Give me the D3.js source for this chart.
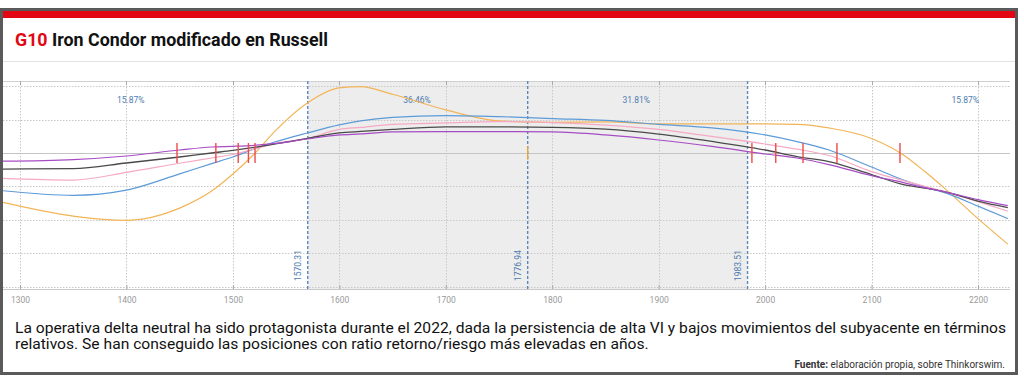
<!DOCTYPE html>
<html><head><meta charset="utf-8">
<script src="https://cdn.jsdelivr.net/npm/d3@7"></script>
<style>html,body{margin:0;padding:0;background:#fff;}svg{display:block;}</style>
</head><body>
<svg id="c" width="1024" height="381"></svg>
<script>
// ---- data ----
const prices = [1284,1350,1400,1450,1480,1500,1520,1540,1570,1600,1620,1650,1700,1750,1800,1850,1900,1950,2000,2030,2060,2100,2130,2150,2170,2200,2228];
const orangePL = [-740,-945,-1010,-825,-570,-315,-15,335,750,975,995,880,645,480,458,465,435,435,435,428,375,218,-30,-278,-548,-983,-1365];
const bluePL   = [-565,-633,-555,-312,-158,-60,60,168,300,420,480,533,560,545,516,488,428,375,270,170,45,-210,-405,-510,-600,-795,-982];
const pinkPL   = [-380,-405,-290,-153,-75,-23,60,143,218,353,383,428,450,470,455,416,353,248,135,57,-38,-278,-413,-500,-585,-728,-870];
const blackPL  = [-240,-233,-150,-60,0,38,83,135,218,300,323,353,390,390,383,356,282,173,45,-53,-128,-323,-473,-525,-585,-720,-818];
const purplePL = [-122,-98,-45,45,90,100,115,143,210,270,285,315,320,320,315,270,195,98,-15,-75,-173,-338,-443,-518,-585,-698,-788];
const seriesNames = ["orange","blue","pink","black","purple"];
const seriesColors = ["#f2b457","#5c9bd8","#f6a9c4","#4a4a4a","#a64cc4"];
const strikeMarks = [1447.5,1484,1505,1514.6,1520.8,1987.6,2010,2035.6,2067.5,2126.7];
const boundaries = [1570.31,1776.94,1983.51];
const boundaryLabels = ["1570.31","1776.94","1983.51"];
const zoneProbLabels = ["15.87%","36.46%","31.81%","15.87%"];
const zoneLabelPrices = [1404,1673,1879,2188];
const xTicks = [1300,1400,1500,1600,1700,1800,1900,2000,2100,2200];
const yGrid = [1000,500,0,-500,-1000,-1500,-2000];
const titleNum = "G10";
const titleText = " Iron Condor modificado en Russell";
const body1 = "La operativa delta neutral ha sido protagonista durante el 2022, dada la persistencia de alta VI y bajos movimientos del subyacente en términos";
const body2 = "relativos. Se han conseguido las posiciones con ratio retorno/riesgo más elevadas en años.";
const sourceBold = "Fuente:";
const sourceText = " elaboración propia, sobre Thinkorswim.";

const svg = d3.select("#c");
const F = "Roboto, 'Noto Sans', sans-serif";

// frame
svg.append("rect").attr("x",1.5).attr("y",9.5).attr("width",1015).attr("height",364).attr("fill","#fff").attr("stroke","#5a5a5a").attr("stroke-width",3);
svg.append("rect").attr("x",3).attr("y",11).attr("width",1012).attr("height",7).attr("fill","#e30613");

// title
const t = svg.append("text").attr("x",15).attr("y",46).attr("font-family",F).attr("font-weight","bold").attr("font-size",17.5)
  .attr("textLength",313).attr("lengthAdjust","spacingAndGlyphs");
t.append("tspan").attr("fill","#e30613").text(titleNum);
t.append("tspan").attr("fill","#111").text(titleText);
svg.append("line").attr("x1",3).attr("x2",1015).attr("y1",61.5).attr("y2",61.5).attr("stroke","#e2e2e2");

// scales
const x = d3.scaleLinear().domain([1300,2200]).range([20,978]);
const y = d3.scaleLinear().domain([0,-500]).range([153,186.4]);
const plotL = 3, plotR = 1010, plotT = 81, plotB = 289;

const g = svg.append("g");
g.append("rect").attr("x",plotL).attr("y",plotT).attr("width",plotR-plotL).attr("height",plotB-plotT).attr("fill","#fff");
g.append("rect").attr("x",x(boundaries[0])).attr("y",plotT).attr("width",x(boundaries[2])-x(boundaries[0])).attr("height",plotB-plotT).attr("fill","#ededed");

// grid
g.selectAll(".hg").data(yGrid).join("line")
  .attr("x1",plotL).attr("x2",plotR).attr("y1",d=>Math.round(y(d))+0.5).attr("y2",d=>Math.round(y(d))+0.5)
  .attr("stroke",d=>d===0?"#c4c4c4":"#c8c8c8").attr("stroke-width",1).attr("stroke-dasharray",d=>d===0?null:"1.5,1.5");
g.selectAll(".vg").data(xTicks).join("line")
  .attr("x1",d=>Math.round(x(d))+0.5).attr("x2",d=>Math.round(x(d))+0.5).attr("y1",plotT).attr("y2",plotB)
  .attr("stroke","#c8c8c8").attr("stroke-dasharray","1.5,1.5");
g.append("line").attr("x1",plotL).attr("x2",plotR).attr("y1",plotT+0.5).attr("y2",plotT+0.5).attr("stroke","#d0d0d0");

// axis
const ax = d3.axisBottom(x).tickValues(xTicks).tickSize(4).tickPadding(4).tickFormat(d3.format("d"));
const axg = svg.append("g").attr("transform",`translate(0,${plotB})`).call(ax);
axg.select(".domain").attr("d",`M${plotL},0.5H${plotR}`).attr("stroke","#c8c8c8");
axg.selectAll(".tick line").attr("y1",-4).attr("y2",0).attr("stroke","#aaa");
axg.selectAll(".tick text").attr("fill","#9a9a9a").attr("font-family",F).attr("font-size",8.5);
g.selectAll(".tt").data(xTicks).join("line").attr("x1",d=>Math.round(x(d))+0.5).attr("x2",d=>Math.round(x(d))+0.5)
  .attr("y1",plotT).attr("y2",plotT+4).attr("stroke","#aaa");

// boundaries
g.selectAll(".bd").data(boundaries).join("line")
  .attr("x1",d=>x(d)).attr("x2",d=>x(d)).attr("y1",plotT).attr("y2",plotB)
  .attr("stroke","#5b87bb").attr("stroke-width",1.4).attr("stroke-dasharray","3,2");
g.selectAll(".bl").data(boundaries).join("text")
  .attr("transform",(d)=>`translate(${x(d)-7},${plotB-8}) rotate(-90)`)
  .attr("font-family",F).attr("font-size",8.5).attr("fill","#4e7cb0").text((d,i)=>boundaryLabels[i]);
g.selectAll(".zl").data(zoneLabelPrices).join("text")
  .attr("x",d=>x(d)).attr("y",103).attr("text-anchor","middle")
  .attr("font-family",F).attr("font-size",8.5).attr("fill","#4e7cb0").text((d,i)=>zoneProbLabels[i]);

// curves
const allSeries = [orangePL,bluePL,pinkPL,blackPL,purplePL];
const line = d3.line().x((d,i)=>x(prices[i])).y(d=>y(d)).curve(d3.curveMonotoneX);
svg.append("clipPath").attr("id","pc").append("rect").attr("x",plotL).attr("y",plotT).attr("width",plotR-plotL).attr("height",plotB-plotT);
const cg = svg.append("g").attr("clip-path","url(#pc)");
[0,1,2,3,4].forEach(k=>{
  cg.append("path").datum(allSeries[k]).attr("d",line).attr("fill","none")
    .attr("stroke",seriesColors[k]).attr("stroke-width",k===3?1.3:1.2);
});

// current price marker
cg.append("line").attr("x1",x(boundaries[1])).attr("x2",x(boundaries[1])).attr("y1",y(100)).attr("y2",y(-100)).attr("stroke","#e3a53c").attr("stroke-width",1.4);

// strike marks
cg.selectAll(".sm").data(strikeMarks).join("line")
  .attr("x1",d=>x(d)).attr("x2",d=>x(d)).attr("y1",y(150)).attr("y2",y(-150))
  .attr("stroke","#ee4a4a").attr("stroke-width",1.4);

// body text
const b1 = svg.append("text").attr("x",15).attr("y",333).attr("font-family",F).attr("font-size",14).attr("fill","#111").text(body1);
const b2 = svg.append("text").attr("x",15).attr("y",349).attr("font-family",F).attr("font-size",14).attr("fill","#111").text(body2);
const w1 = b1.node().getComputedTextLength();
const k = 991 / w1;
const w2 = b2.node().getComputedTextLength();
b1.attr("textLength",991).attr("lengthAdjust","spacingAndGlyphs");
b2.attr("textLength",w2*k).attr("lengthAdjust","spacingAndGlyphs");

const s = svg.append("text").attr("x",1005).attr("y",368).attr("text-anchor","end").attr("font-family",F).attr("font-size",10).attr("fill","#333");
s.append("tspan").attr("font-weight","bold").text(sourceBold);
s.append("tspan").text(sourceText);
const ws = s.node().getComputedTextLength();
s.attr("textLength",Math.min(ws,216)).attr("lengthAdjust","spacingAndGlyphs");
</script>
</body></html>
